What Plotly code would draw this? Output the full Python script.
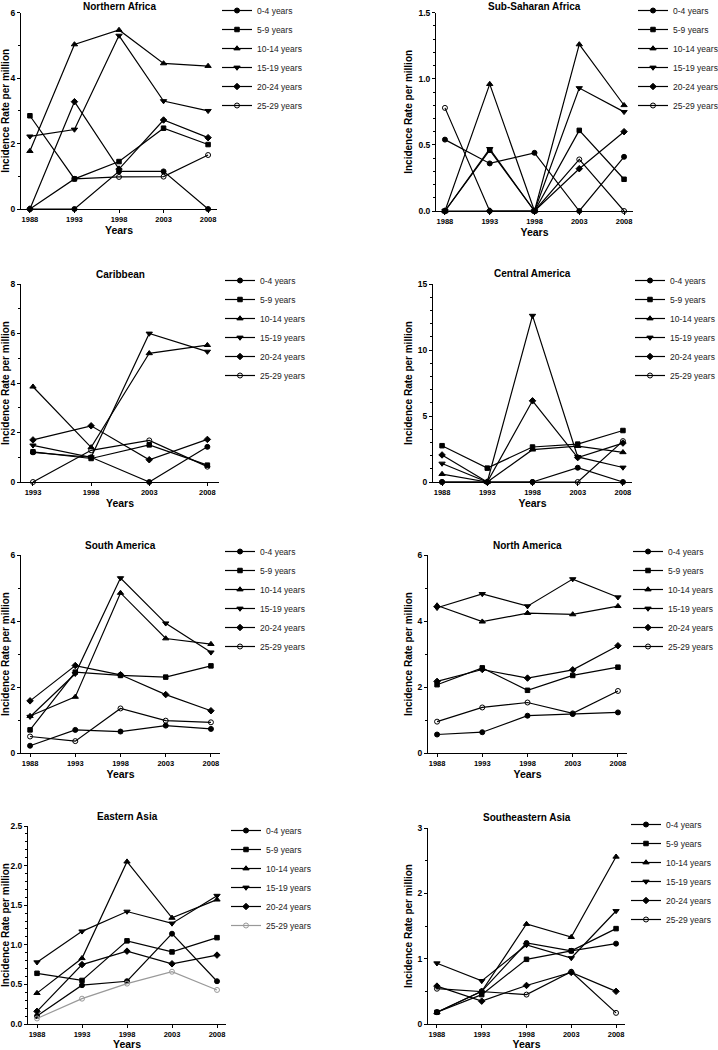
import plotly.graph_objects as go

# Jahre (x-Achse)
years = [1988, 1993, 1998, 2003, 2008]
years_caribbean = [1993, 1998, 2003, 2008]

age_groups = ["0-4 years", "5-9 years", "10-14 years",
              "15-19 years", "20-24 years", "25-29 years"]

# Werte je Region, Zeilen = Altersgruppen (Reihenfolge wie age_groups)
northern_africa = [
    [0, 0, 1.15, 1.15, 0],
    [2.85, 0.92, 1.45, 2.47, 1.97],
    [1.77, 5.03, 5.47, 4.45, 4.37],
    [2.22, 2.43, 5.3, 3.3, 3.0],
    [0, 3.28, 1.22, 2.72, 2.18],
    [0, 0.92, 0.98, 0.99, 1.65],
]
sub_saharan_africa = [
    [0.54, 0.36, 0.44, 0, 0.41],
    [0, 0.46, 0, 0.61, 0.24],
    [0, 0.96, 0, 1.26, 0.80],
    [0, 0.47, 0, 0.93, 0.75],
    [0, 0, 0, 0.32, 0.60],
    [0.78, 0, 0, 0.39, 0],
]
caribbean = [
    [1.2, 1.0, 0, 1.42],
    [1.22, 0.95, 1.5, 0.68],
    [3.85, 1.4, 5.2, 5.53],
    [1.48, 1.0, 6.0, 5.27],
    [1.7, 2.27, 0.9, 1.72],
    [0, 1.28, 1.68, 0.62],
]
central_america = [
    [0, 0, 0, 1.08, 0],
    [2.75, 1.05, 2.65, 2.87, 3.9],
    [0.6, 0, 2.45, 2.72, 2.25],
    [1.4, 0, 12.6, 1.9, 1.1],
    [2.05, 0, 6.15, 1.85, 2.95],
    [0, 0, 0, 0, 3.1],
]
south_america = [
    [0.22, 0.7, 0.65, 0.83, 0.73],
    [0.7, 2.45, 2.35, 2.3, 2.64],
    [1.12, 1.7, 4.85, 3.47, 3.3],
    [1.1, 2.4, 5.3, 3.93, 3.05],
    [1.58, 2.65, 2.37, 1.77, 1.28],
    [0.5, 0.36, 1.35, 0.98, 0.93],
]
north_america = [
    [0.56, 0.63, 1.13, 1.18, 1.23],
    [2.07, 2.58, 1.9, 2.35, 2.6],
    [4.47, 3.98, 4.24, 4.2, 4.45],
    [4.4, 4.82, 4.45, 5.27, 4.72],
    [2.17, 2.53, 2.27, 2.52, 3.25],
    [0.95, 1.38, 1.53, 1.2, 1.88],
]
eastern_asia = [
    [0.1, 0.49, 0.54, 1.14, 0.54],
    [0.64, 0.55, 1.05, 0.91, 1.09],
    [0.39, 0.83, 2.05, 1.34, 1.57],
    [0.78, 1.17, 1.42, 1.27, 1.62],
    [0.16, 0.75, 0.92, 0.76, 0.87],
    [0.07, 0.32, 0.51, 0.66, 0.43],
]
southeastern_asia = [
    [0.18, 0.5, 1.24, 1.12, 1.23],
    [0.18, 0.45, 0.99, 1.12, 1.46],
    [0.18, 0.5, 1.53, 1.33, 2.56],
    [0.93, 0.66, 1.21, 1.01, 1.73],
    [0.58, 0.35, 0.59, 0.79, 0.5],
    [0.54, 0.5, 0.45, 0.8, 0.17],
]

W, H = 718, 1050
FONT = "Liberation Sans, Arial, sans-serif"
symbols = ["circle", "square", "triangle-up", "triangle-down", "diamond", "circle-open"]
sizes = [5, 4.5, 5.5, 5.5, 5, 5]

# (Titel, Jahre, Daten, y-Bereich, dtick, Format, Minor-dtick,
#  Achse x0/x1 px, Achse oben/unten px, Titel-y px, Legende x px, Legende y px, Farbe 25-29)
panels = [
    ("Northern Africa", years, northern_africa, [0, 6], 2, "d", 1,
     (21, 217), (12.7, 209), 6.5, 217, -4, "black"),
    ("Sub-Saharan Africa", years, sub_saharan_africa, [0, 1.5], 0.5, ".1f", 0.1,
     (436, 633), (12.7, 211), 6.5, 633, -4, "black"),
    ("Caribbean", years_caribbean, caribbean, [0, 8], 2, "d", 1,
     (21, 219), (284, 482), 274, 220, 266, "black"),
    ("Central America", years, central_america, [0, 15], 5, "d", 1,
     (433, 632), (284, 482), 273, 630, 266, "black"),
    ("South America", years, south_america, [0, 6], 2, "d", 1,
     (21, 220), (555, 753), 545, 220, 537, "black"),
    ("North America", years, north_america, [0, 6], 2, "d", 1,
     (428, 627), (555, 753), 545, 628, 537, "black"),
    ("Eastern Asia", years, eastern_asia, [0, 2.5], 0.5, ".1f", 0.1,
     (28, 226), (826, 1024), 816, 226, 816, "#999999"),
    ("Southeastern Asia", years, southeastern_asia, [0, 3], 1, "d", 0.5,
     (428, 625), (828, 1024), 817, 626, 810, "black"),
]

fig = go.Figure()
layout = dict(
    width=W, height=H,
    margin=dict(l=0, r=0, t=0, b=0, autoexpand=False),
    paper_bgcolor="white", plot_bgcolor="white",
    font=dict(family=FONT, color="black"),
    annotations=[],
)

for i, (title, xs, data, yrange, dtick, fmt, minor, (x0, x1), (yt, yb),
        title_y, leg_x, leg_y, last_color) in enumerate(panels, start=1):
    sfx = "" if i == 1 else str(i)
    leg = "legend" + sfx
    for k, (name, vals) in enumerate(zip(age_groups, data)):
        color = last_color if k == 5 else "black"
        fig.add_trace(go.Scatter(
            x=xs, y=vals, name=name, mode="lines+markers",
            xaxis="x" + sfx, yaxis="y" + sfx, legend=leg,
            line=dict(color=color, width=1.2),
            marker=dict(symbol=symbols[k], size=sizes[k], color=color,
                        line=dict(color=color, width=1)),
            cliponaxis=False,
        ))

    layout["xaxis" + sfx] = dict(
        domain=[x0 / W, x1 / W], anchor="y" + sfx,
        range=[xs[0] - (1.0 if xs[0] == 1988 else 1.03), xs[-1] + 1.0],
        tickvals=xs, ticks="outside", ticklen=3, tickwidth=1, tickcolor="black",
        tickfont=dict(size=7.5, weight="bold", family=FONT),
        showline=True, linecolor="black", linewidth=1, showgrid=False, zeroline=False,
        title=dict(text="Years", font=dict(size=10.5, weight="bold", family=FONT), standoff=3),
    )
    layout["yaxis" + sfx] = dict(
        domain=[1 - yb / H, 1 - yt / H], anchor="x" + sfx,
        range=yrange, dtick=dtick, tick0=0, tickformat=fmt,
        ticks="outside", ticklen=3, tickwidth=1, tickcolor="black",
        minor=dict(dtick=minor, ticks="outside", ticklen=2, tickcolor="black", tickwidth=1),
        tickfont=dict(size=8.5, weight="bold", family=FONT),
        showline=True, linecolor="black", linewidth=1, showgrid=False, zeroline=False,
        title=dict(text="Incidence Rate per million",
                   font=dict(size=10, weight="bold", family=FONT), standoff=3),
    )
    layout[leg] = dict(
        x=leg_x / W, y=1 - leg_y / H, xanchor="left", yanchor="top",
        font=dict(size=8.5, color="#222222", family=FONT),
        itemwidth=30, bgcolor="rgba(0,0,0,0)", tracegroupgap=0,
    )
    layout["annotations"].append(dict(
        text="<b>" + title + "</b>", x=(x0 + x1) / 2 / W, y=1 - title_y / H,
        xref="paper", yref="paper", showarrow=False,
        xanchor="center", yanchor="middle", font=dict(size=10, family=FONT),
    ))

fig.update_layout(**layout)
# Seitenrand des Browsers entfernen, damit die Grafik bei (0,0) beginnt
fig.write_html("out.html", config={"displayModeBar": False},
               post_script="document.body.style.margin='0';")
